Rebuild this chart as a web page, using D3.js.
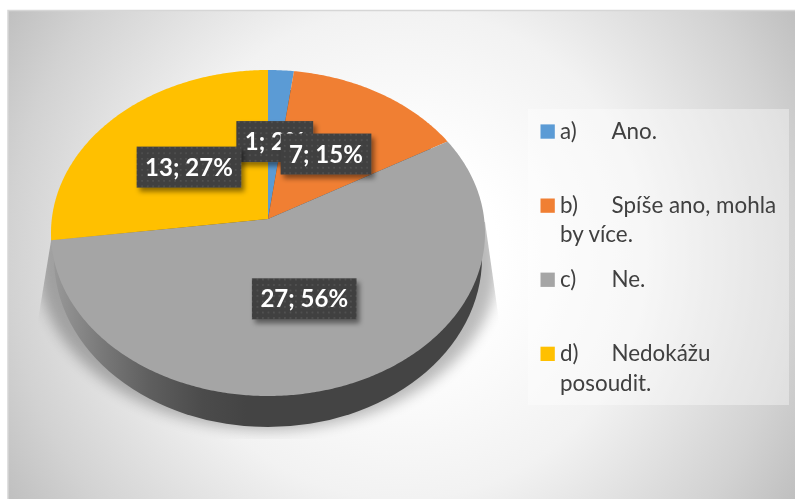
<!DOCTYPE html>
<html>
<head>
<meta charset="utf-8">
<script src="https://cdn.jsdelivr.net/npm/d3@7"></script>
<style>
  html, body { margin: 0; padding: 0; background: #fff; }
  svg { display: block; font-family: Lato, "Open Sans", sans-serif; filter: blur(0.35px); }
</style>
</head>
<body>
<svg id="svg" width="795" height="499"></svg>
<script>
var categories = ["a)", "b)", "c)", "d)"];
var answers = ["Ano.", "Spíše ano, mohla", "Ne.", "Nedokážu"];
var answersLine2 = ["", "by více.", "", "posoudit."];
var counts = [1, 7, 27, 13];
var percents = [2, 15, 56, 27];
var colors = ["#5b9bd5", "#f07f33", "#a5a5a5", "#ffc000"];

var svg = d3.select("#svg");
var defs = svg.append("defs");

// ellipse of the pie top, tilt moves the apex up from the middle of it
var cx = 268, cy = 233, rx = 217, ry = 163, tilt = -0.086;

var project = function(a, r) {
    var u = r * Math.sin(a), v = -r * Math.cos(a);
    var w = 1 + tilt * v;
    return [cx + rx * u * Math.sqrt(1 - tilt * tilt) / w, cy + ry * (v + tilt) / w];
};

// background
var bg = defs.append("radialGradient").attr("id", "bg")
    .attr("gradientUnits", "userSpaceOnUse")
    .attr("cx", 402).attr("cy", 254).attr("r", 480);
[[0.2, "#ffffff"], [0.51, "#f2f2f2"], [0.82, "#d2d2d2"], [1, "#bbbbbb"]].forEach(function(s) {
    bg.append("stop").attr("offset", s[0]).attr("stop-color", s[1]);
});
svg.append("rect")
    .attr("x", 8).attr("y", 10.5).attr("width", 790).attr("height", 492)
    .attr("fill", "url(#bg)").attr("stroke", "#d6d6d6").attr("stroke-width", 1.5);

// shadow under the pie, cut off like in the picture
defs.append("filter").attr("id", "soft")
    .attr("x", "-20%").attr("y", "-20%").attr("width", "140%").attr("height", "140%")
    .append("feGaussianBlur").attr("stdDeviation", 7);
defs.append("clipPath").attr("id", "shadowClip").append("polygon")
    .attr("points", "52,235 485,222 499,320 499,439 38,439 38,320");
svg.append("g").attr("clip-path", "url(#shadowClip)")
    .append("ellipse")
    .attr("cx", cx).attr("cy", 264).attr("rx", 230).attr("ry", 166)
    .attr("fill", "#000").attr("opacity", 0.27).attr("filter", "url(#soft)");

// side wall
var wall = defs.append("linearGradient").attr("id", "wall")
    .attr("gradientUnits", "userSpaceOnUse")
    .attr("x1", 51).attr("x2", 485).attr("y1", 0).attr("y2", 0);
[[0, "#9a9a9a"], [0.12, "#787878"], [0.23, "#5e5e5e"], [0.35, "#4b4b4b"], [0.45, "#444444"], [1, "#444444"]].forEach(function(s) {
    wall.append("stop").attr("offset", s[0]).attr("stop-color", s[1]);
});
svg.append("ellipse")
    .attr("cx", cx).attr("cy", 258).attr("rx", 214).attr("ry", 169)
    .attr("fill", "url(#wall)");

// slices
var slices = d3.pie().sort(null)(counts);
var line = d3.line();
var slicePoints = function(d) {
    var n = Math.ceil((d.endAngle - d.startAngle) / 0.01);
    var pts = [project(0, 0)];
    d3.range(n + 1).forEach(function(i) {
        pts.push(project(d.startAngle + (d.endAngle - d.startAngle) * i / n, 1));
    });
    return pts;
};
svg.selectAll("path.slice").data(slices).enter().append("path")
    .attr("class", "slice")
    .attr("d", function(d) { return line(slicePoints(d)) + "Z"; })
    .attr("fill", function(d, i) { return colors[i]; });

// data labels
var dots = defs.append("pattern").attr("id", "dots")
    .attr("patternUnits", "userSpaceOnUse").attr("width", 5.5).attr("height", 5.5);
dots.append("rect").attr("width", 5.5).attr("height", 5.5).attr("fill", "#3f3f3f");
dots.append("circle").attr("cx", 2.7).attr("cy", 2.7).attr("r", 1).attr("fill", "#525252");
defs.append("filter").attr("id", "boxShadow")
    .attr("x", "-20%").attr("y", "-30%").attr("width", "140%").attr("height", "170%")
    .append("feDropShadow").attr("dx", 3).attr("dy", 4).attr("stdDeviation", 2.5)
    .attr("flood-color", "#000").attr("flood-opacity", 0.45);

var labels = svg.selectAll("g.lab").data(slices).enter().append("g")
    .attr("class", "lab")
    .attr("transform", function(d) {
        return "translate(" + project((d.startAngle + d.endAngle) / 2, 0.5) + ")";
    });
var boxes = labels.append("rect");
labels.append("text")
    .attr("text-anchor", "middle").attr("y", 8.5)
    .attr("font-size", 24).attr("font-weight", 700).attr("fill", "#fff")
    .text(function(d, i) { return counts[i] + "; " + percents[i] + "%"; });
boxes.each(function() {
    var w = this.parentNode.querySelector("text").getComputedTextLength() + 17;
    d3.select(this).attr("x", -w / 2).attr("y", -20.5).attr("width", w).attr("height", 41)
        .attr("fill", "url(#dots)").attr("filter", "url(#boxShadow)");
});

// legend
var legend = svg.append("g");
legend.append("rect")
    .attr("x", 528).attr("y", 109).attr("width", 261).attr("height", 296)
    .attr("fill", "#fff").attr("opacity", 0.37);
var rowY = d3.scaleLinear().domain([0, 3]).range([138.7, 361]);
var rows = legend.selectAll("g").data(categories).enter().append("g")
    .attr("transform", function(d, i) { return "translate(0," + rowY(i) + ")"; })
    .attr("font-size", 22.4).attr("fill", "#404040");
rows.append("rect")
    .attr("x", 540.5).attr("y", -14.3).attr("width", 14.3).attr("height", 14.3)
    .attr("fill", function(d, i) { return colors[i]; });
rows.append("text").attr("x", 560).text(function(d) { return d; });
rows.append("text").attr("x", 611.5).text(function(d, i) { return answers[i]; });
rows.append("text").attr("x", 560).attr("y", 29.5).text(function(d, i) { return answersLine2[i]; });
</script>
</body>
</html>
